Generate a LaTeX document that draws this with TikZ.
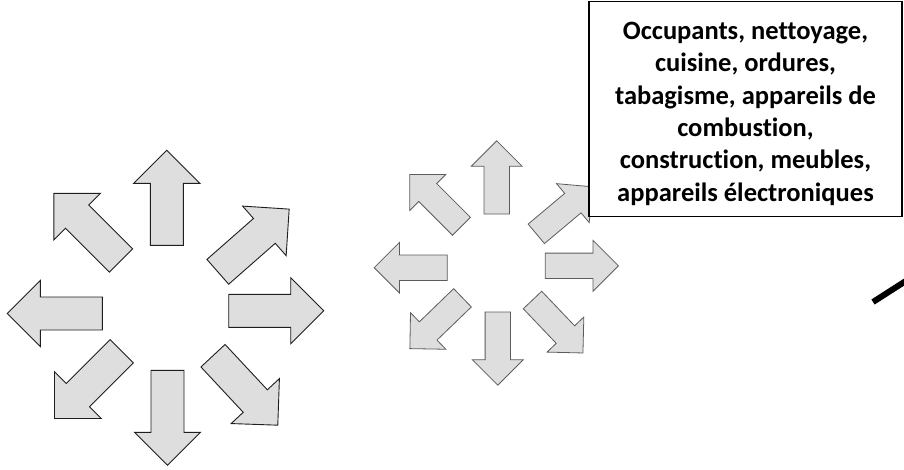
\documentclass[tikz,border=0pt]{standalone}
\usepackage{fontspec}
\setmainfont{Carlito}[Ligatures=NoCommon]
\usetikzlibrary{positioning}
\definecolor{arrowgray}{HTML}{DEDEDE}
\definecolor{edgedark}{HTML}{1E1E1E}
\definecolor{edgegray}{HTML}{5C5C5C}
% block arrow: style, x, y (middle of the tail), angle
\newcommand{\flowarrow}[4]{%
  \path[shift={(#2,#3)},rotate=#4,#1]
    (0,-16.5)--(62,-16.5)--(62,-33)--(95,0)--(62,33)--(62,16.5)--(0,16.5)--cycle;}

\begin{document}
\begin{tikzpicture}[x=1pt,y=-1pt,
    bigarrow/.style={draw=edgedark,fill=arrowgray,line width=0.9pt,line join=miter},
    smallarrow/.style={draw=edgegray,fill=arrowgray,line width=0.8pt,line join=miter,scale=0.77},
    srcbox/.style={draw=black,fill=white,line width=1.3pt,inner sep=0pt,
      minimum width=313pt,minimum height=215pt},
    srctext/.style={inner sep=0pt,align=center,
      font=\fontsize{26.5}{32.3}\selectfont\bfseries}]
  \useasboundingbox (0,0) rectangle (904,469);

  % outer ring
  \flowarrow{bigarrow}{166.8}{245.3}{90}
  \flowarrow{bigarrow}{217.8}{271.8}{41.3}
  \flowarrow{bigarrow}{228.7}{310.8}{0}
  \flowarrow{bigarrow}{213.0}{355.7}{-47}
  \flowarrow{bigarrow}{167.5}{370.3}{-90}
  \flowarrow{bigarrow}{121.7}{351.3}{-135}
  \flowarrow{bigarrow}{102.3}{313.5}{180}
  \flowarrow{bigarrow}{121.0}{260.5}{135}

  % inner ring
  \flowarrow{smallarrow}{496.7}{214.0}{90}
  \flowarrow{smallarrow}{536.3}{233.8}{40}
  \flowarrow{smallarrow}{545.3}{265.8}{0}
  \flowarrow{smallarrow}{532.5}{300.0}{-46.4}
  \flowarrow{smallarrow}{497.8}{312.0}{-90}
  \flowarrow{smallarrow}{462.5}{297.8}{-136}
  \flowarrow{smallarrow}{447.3}{267.7}{180}
  \flowarrow{smallarrow}{461.5}{226.3}{135}

  \node[srcbox] (sources) at (745.5,109.2) {};
  \node[srctext] (sourcetext) at ([yshift=-4.5pt]sources.center)
    {Occupants, nettoyage,\\cuisine, ordures,\\tabagisme, appareils de\\combustion,\\construction, meubles,\\appareils électroniques};

  \coordinate (slash) at (873,302);
  \draw[line width=6pt] (slash) -- (912,277);
\end{tikzpicture}
\end{document}
